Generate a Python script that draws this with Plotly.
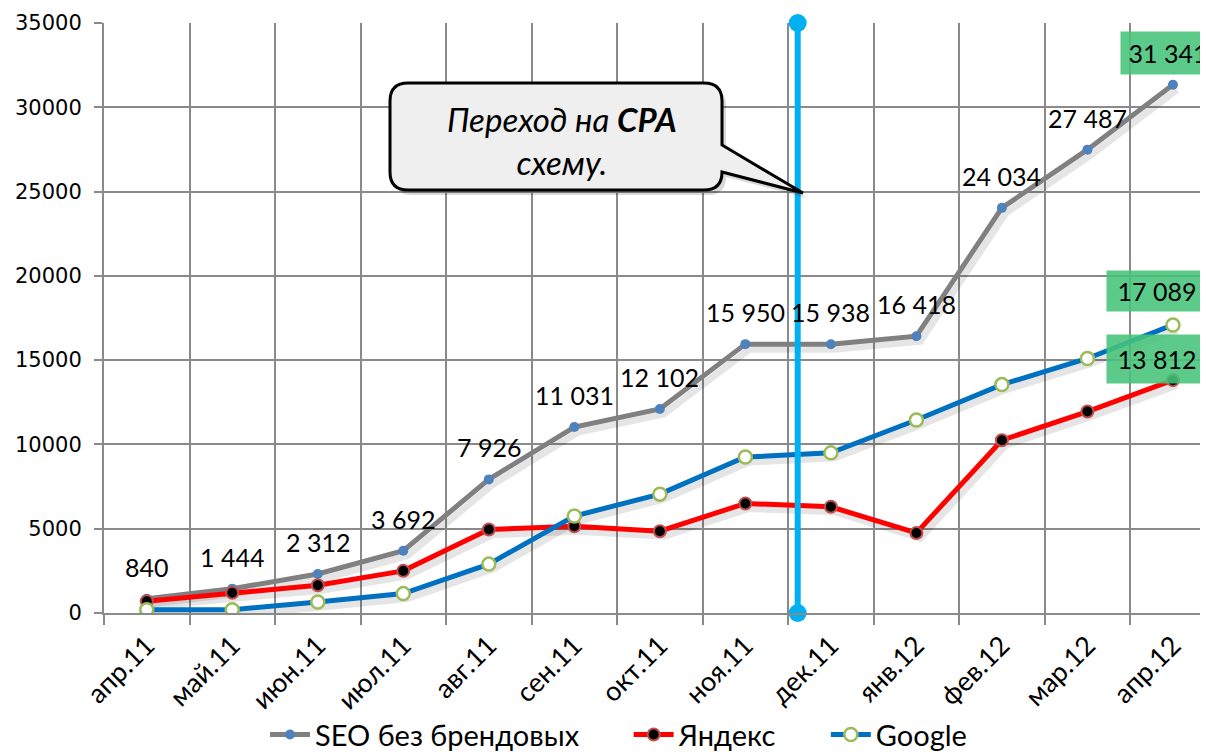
import plotly.graph_objects as go

months = ["апр.11", "май.11", "июн.11", "июл.11", "авг.11", "сен.11", "окт.11",
          "ноя.11", "дек.11", "янв.12", "фев.12", "мар.12", "апр.12"]
seo = [840, 1444, 2312, 3692, 7926, 11031, 12102, 15950, 15938, 16418, 24034, 27487, 31341]
yandex = [700, 1200, 1650, 2500, 4950, 5150, 4850, 6500, 6300, 4750, 10250, 11950, 13812]
google = [200, 200, 650, 1150, 2900, 5750, 7050, 9250, 9500, 11450, 13550, 15100, 17089]
series_names = ["SEO без брендовых", "Яндекс", "Google"]

xs = list(range(len(months)))

# page body has an 8px margin in the browser
OFF = 8
W, H = 1200, 744
ML, MR, MT, MB = 96, 0, 15, 139
X0, X1 = -0.5, 12.41
Y0, Y1 = 0, 35000
PW, PH = W - ML - MR, H - MT - MB
PL, PT = ML + OFF, MT + OFF   # plot origin in screen pixels
UNIT = PW / (X1 - X0)


def px2x(px):
    return X0 + (px - PL) / PW * (X1 - X0)


def py2y(py):
    return Y1 - (py - PT) / PH * (Y1 - Y0)


def fmt(v):
    return f"{v:,}".replace(",", " ")


FONT = "Lato"
GRID = "#8a8a8a"
PAD = "\u00a0" * 6

fig = go.Figure()

# soft shadows
sdx = 4 / UNIT
sdy = 5 / PH * (Y1 - Y0)
for ys in (seo, yandex, google):
    fig.add_trace(go.Scatter(x=[x + sdx for x in xs], y=[y - sdy for y in ys], mode="lines",
                             line=dict(color="rgba(0,0,0,0.10)", width=7),
                             hoverinfo="skip", showlegend=False))

fig.add_trace(go.Scatter(x=xs, y=seo, mode="lines+markers", name=series_names[0] + PAD,
                         line=dict(color="#808080", width=5),
                         marker=dict(color="#4F81BD", size=10, line=dict(width=0))))
fig.add_trace(go.Scatter(x=xs, y=yandex, mode="lines+markers", name=series_names[1] + PAD,
                         line=dict(color="#FF0000", width=5),
                         marker=dict(color="#000000", size=12, line=dict(color="#C0504D", width=2))))
fig.add_trace(go.Scatter(x=xs, y=google, mode="lines+markers", name=series_names[2],
                         line=dict(color="#0070C0", width=5),
                         marker=dict(color="#FFFFFF", size=13, line=dict(color="#9BBB59", width=2.5))))

# vertical transition line
vx = px2x(797.7)
fig.add_trace(go.Scatter(x=[vx, vx], y=[Y0, Y1], mode="lines+markers",
                         line=dict(color="#00B0F0", width=6),
                         marker=dict(color="#00B0F0", size=18),
                         cliponaxis=False, showlegend=False, hoverinfo="skip"))

annotations = []
for i, v in enumerate(seo[:-1]):
    annotations.append(dict(x=xs[i], y=v, text=fmt(v), showarrow=False, yshift=32,
                            font=dict(family=FONT, size=25, color="black")))
GREEN = "rgba(70,196,122,0.88)"
annotations.append(dict(x=xs[-1], y=seo[-1], text=fmt(seo[-1]), showarrow=False, yshift=32,
                        xshift=-5, bgcolor=GREEN, width=88, height=36, borderpad=3,
                        font=dict(family=FONT, size=25, color="black")))
annotations.append(dict(x=xs[-1], y=google[-1], text=fmt(google[-1]), showarrow=False, yshift=34,
                        xshift=-16, bgcolor=GREEN, width=94, height=34, borderpad=3,
                        font=dict(family=FONT, size=25, color="black")))
annotations.append(dict(x=xs[-1], y=yandex[-1], text=fmt(yandex[-1]), showarrow=False, yshift=21,
                        xshift=-16, bgcolor=GREEN, width=94, height=42, borderpad=3,
                        font=dict(family=FONT, size=25, color="black")))

# callout box (screen pixel outline)
L, R, T, B, r = 390, 722, 83, 190, 18
tail = [(722, 145), (803, 193), (722, 172)]


def P(px, py):
    return f"{px2x(px):.5f},{py2y(py):.3f}"


def callout_path(dx=0, dy=0):
    s = f"M {P(L + r + dx, T + dy)} L {P(R - r + dx, T + dy)} Q {P(R + dx, T + dy)} {P(R + dx, T + r + dy)} "
    s += f"L {P(tail[0][0] + dx, tail[0][1] + dy)} L {P(tail[1][0] + dx, tail[1][1] + dy)} L {P(tail[2][0] + dx, tail[2][1] + dy)} "
    s += f"L {P(R + dx, B - r + dy)} Q {P(R + dx, B + dy)} {P(R - r + dx, B + dy)} L {P(L + r + dx, B + dy)} "
    s += f"Q {P(L + dx, B + dy)} {P(L + dx, B - r + dy)} L {P(L + dx, T + r + dy)} Q {P(L + dx, T + dy)} {P(L + r + dx, T + dy)} Z"
    return s


shapes = [
    dict(type="path", path=callout_path(4, 5), xref="x", yref="y",
         fillcolor="rgba(0,0,0,0.15)", line=dict(width=0), layer="above"),
    dict(type="path", path=callout_path(), xref="x", yref="y",
         fillcolor="#EFEFEF", line=dict(color="black", width=3), layer="above"),
]
annotations.append(dict(x=px2x((L + R) / 2 + 6), y=py2y(140), xref="x", yref="y",
                        text="<i>Переход на <b>CPA</b><br>схему.</i>", showarrow=False,
                        font=dict(family=FONT, size=33, color="black"), align="center"))

fig.update_layout(
    width=W, height=H,
    margin=dict(l=ML, r=MR, t=MT, b=MB, autoexpand=False),
    plot_bgcolor="white", paper_bgcolor="white",
    font=dict(family=FONT, color="black"),
    shapes=shapes, annotations=annotations,
    legend=dict(orientation="h", x=0.466, xanchor="center", y=-0.163, yanchor="top",
                font=dict(family=FONT, size=29), itemwidth=40, tracegroupgap=0,
                bgcolor="rgba(0,0,0,0)"),
    xaxis=dict(range=[X0, X1], tickmode="array", tickvals=xs, ticktext=months,
               tickangle=-45, showgrid=False, ticks="", zeroline=False, automargin=False,
               showline=True, linecolor=GRID, linewidth=2, ticklabelstandoff=4,
               ticklabeloverflow="allow",
               tickfont=dict(family=FONT, size=27, color="black"),
               minor=dict(tickmode="linear", tick0=-0.5, dtick=1, showgrid=True,
                          gridcolor=GRID, gridwidth=2, ticks="outside", ticklen=10,
                          tickcolor=GRID, tickwidth=2)),
    yaxis=dict(range=[Y0, Y1], tickmode="linear", tick0=0, dtick=5000, tickformat="d",
               showgrid=True, gridcolor=GRID, gridwidth=2, zeroline=False, automargin=False,
               showline=True, linecolor=GRID, linewidth=2, ticklabelstandoff=8,
               ticks="outside", ticklen=8, tickcolor=GRID, tickwidth=2,
               tickfont=dict(family="DejaVu Sans", size=21, color="black")),
)

fig.write_html("out.html")
